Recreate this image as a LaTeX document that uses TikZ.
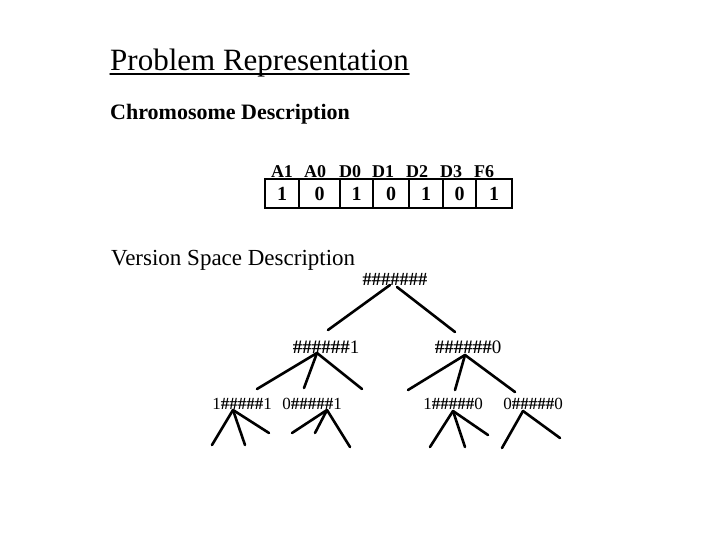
\documentclass[tikz,border=0pt]{standalone}
\usepackage{fontspec}
\setmainfont{Liberation Serif}
\usetikzlibrary{calc}
\newcommand{\hh}{\textbf{\#}}
\begin{document}
\begin{tikzpicture}[x=1pt,y=-1pt,line cap=round]
\useasboundingbox[fill=white] (0,0) rectangle (720,540);
\tikzset{
  edge/.style={line width=2.6pt},
  vs/.style={inner sep=0pt,font=\fontsize{17}{17}\selectfont},
  vsbig/.style={inner sep=0pt,font=\fontsize{18.5}{18.5}\selectfont},
  cell/.style={draw,line width=1.6pt,minimum height=29pt,inner sep=0pt,font=\bfseries\fontsize{20}{20}\selectfont},
  gene/.style={inner sep=0pt,anchor=base,font=\bfseries\fontsize{18}{18}\selectfont},
  heading/.style={inner sep=0pt,anchor=base west}
}
% headings
\node[heading,font=\fontsize{31}{31}\selectfont] (title) at (110,71) {Problem Representation};
\draw[line width=1.4pt] ($(title.base west)+(0,3)$) -- ($(title.base east)+(0,3)$);
\node[heading,font=\bfseries\fontsize{22}{22}\selectfont] (chrom) at (110,120) {Chromosome Description};
\node[heading,font=\fontsize{23}{23}\selectfont] (vsd) at (111,265) {Version Space Description};
% chromosome
\node[cell,minimum width=34pt] (k1) at (282,193.5) {1};
\node[cell,minimum width=41pt] (k2) at (319.5,193.5) {0};
\node[cell,minimum width=33pt] (k3) at (356.5,193.5) {1};
\node[cell,minimum width=36pt] (k4) at (391,193.5) {0};
\node[cell,minimum width=34pt] (k5) at (426,193.5) {1};
\node[cell,minimum width=33pt] (k6) at (459.5,193.5) {0};
\node[cell,minimum width=36pt] (k7) at (494,193.5) {1};
\node[gene] (g1) at (282,178) {A1};
\node[gene] (g2) at (315,178) {A0};
\node[gene] (g3) at (350,178) {D0};
\node[gene] (g4) at (383,178) {D1};
\node[gene] (g5) at (417,178) {D2};
\node[gene] (g6) at (451,178) {D3};
\node[gene] (g7) at (484,178) {F6};
% version space tree
\node[vsbig] (root) at (395,279) {\hh\hh\hh\hh\hh\hh\hh};
\node[vsbig,font=\fontsize{19}{19}\selectfont] (n1) at (326,347) {\hh\hh\hh\hh\hh\hh1};
\node[vsbig,font=\fontsize{19}{19}\selectfont] (n0) at (468,347) {\hh\hh\hh\hh\hh\hh0};
\node[vs] (a) at (242,404) {1\hh\hh\hh\hh\hh1};
\node[vs] (b) at (312,404) {0\hh\hh\hh\hh\hh1};
\node[vs] (c) at (453,404) {1\hh\hh\hh\hh\hh0};
\node[vs] (d) at (533,404) {0\hh\hh\hh\hh\hh0};
% root edges
\draw[edge] ($(root)+(-5,6)$) -- ($(n1)+(2,-17)$);
\draw[edge] ($(root)+(2,8)$) -- ($(n0)+(-13,-15)$);
% level 2 edges
\coordinate (n1l) at (257,389);
\coordinate (n1m) at (304,388);
\coordinate (n1r) at (362,389);
\draw[edge] ($(n1)+(-9,6)$) -- (n1l);
\draw[edge] ($(n1)+(-9,6)$) -- (n1m);
\draw[edge] ($(n1)+(-9,6)$) -- (n1r);
\coordinate (n0l) at (408,390);
\coordinate (n0m) at (455,390);
\coordinate (n0r) at (515,392);
\draw[edge] ($(n0)+(-3,8)$) -- (n0l);
\draw[edge] ($(n0)+(-3,8)$) -- (n0m);
\draw[edge] ($(n0)+(-3,8)$) -- (n0r);
% level 3 edges
\coordinate (al) at (212,445);
\coordinate (am) at (245,445);
\coordinate (ar) at (269,433);
\draw[edge] ($(a)+(-9,6)$) -- (al);
\draw[edge] ($(a)+(-9,6)$) -- (am);
\draw[edge] ($(a)+(-9,6)$) -- (ar);
\coordinate (bl) at (292,433);
\coordinate (bm) at (315,433);
\coordinate (br) at (350,447);
\draw[edge] ($(b)+(15,6)$) -- (bl);
\draw[edge] ($(b)+(15,6)$) -- (bm);
\draw[edge] ($(b)+(15,6)$) -- (br);
\coordinate (cl) at (430,447);
\coordinate (cm) at (465,447);
\coordinate (cr) at (488,435);
\draw[edge] ($(c)+(0,7)$) -- (cl);
\draw[edge] ($(c)+(0,7)$) -- (cm);
\draw[edge] ($(c)+(0,7)$) -- (cr);
\coordinate (dl) at (502,448);
\coordinate (dr) at (560,438);
\draw[edge] ($(d)+(-10,7)$) -- (dl);
\draw[edge] ($(d)+(-10,7)$) -- (dr);
\end{tikzpicture}
\end{document}
